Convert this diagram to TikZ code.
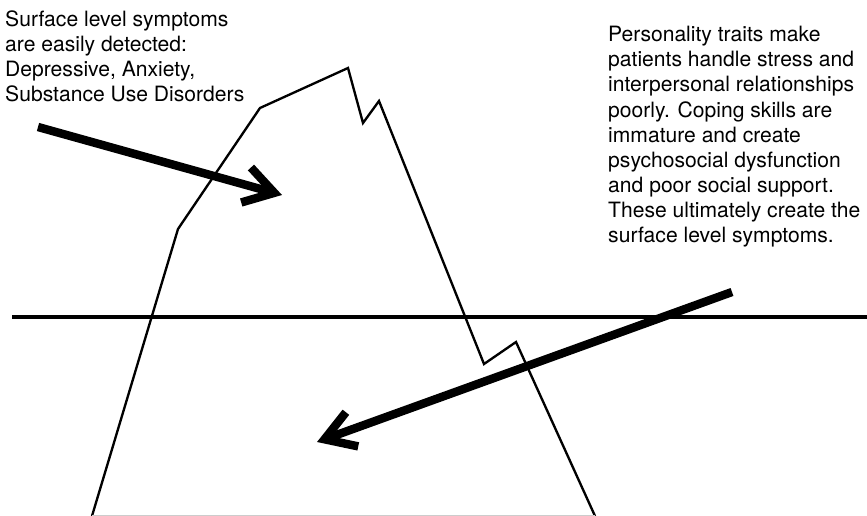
\documentclass[tikz,border=0pt]{standalone}
\usepackage{fontspec}
\setmainfont{TeX Gyre Heros}
\usetikzlibrary{arrows.meta}

\begin{document}
\begin{tikzpicture}[x=0.03cm, y=-0.03cm, berg/.style={draw, line width=2pt, line join=miter}, water/.style={line width=2.8pt}, fat/.style={line width=7.2pt, -{Straight Barb[length=25pt, width=31pt, line width=7.2pt]}}, note/.style={align=left, inner sep=0pt, anchor=base west, font=\fontsize{18}{21.5}\selectfont}]
\useasboundingbox (0,0) rectangle (867,516);
% iceberg
\draw[berg] (92,516) -- (178,229) -- (260,108) -- (348,68) -- (363,123) -- (379,101) -- (484,364) -- (516,342) -- (595,516);
\draw[gray!40, line width=0.8pt] (92,515) -- (595,515);
% water line
\coordinate (wl) at (12,317);
\coordinate (wr) at (867,317);
\draw[water] (wl) -- (wr);
% texts (placed by the baseline of their last line)
\node[note] (top) at (5,102) {Surface level symptoms\\are easily detected:\\Depressive, Anxiety,\\Substance Use Disorders};
\node[note] (deep) at (608,243) {Personality traits make\\patients handle stress and\\interpersonal relationships\\poorly. Coping skills are\\immature and create\\psychosocial dysfunction\\and poor social support.\\These ultimately create the\\surface level symptoms.};
% arrows
\coordinate (a1) at (38,127);
\coordinate (b1) at (282,195);
\coordinate (a2) at (732,292);
\coordinate (b2) at (317,442);
\draw[fat] (a1) -- (b1);
\draw[fat] (a2) -- (b2);
\end{tikzpicture}
\end{document}
